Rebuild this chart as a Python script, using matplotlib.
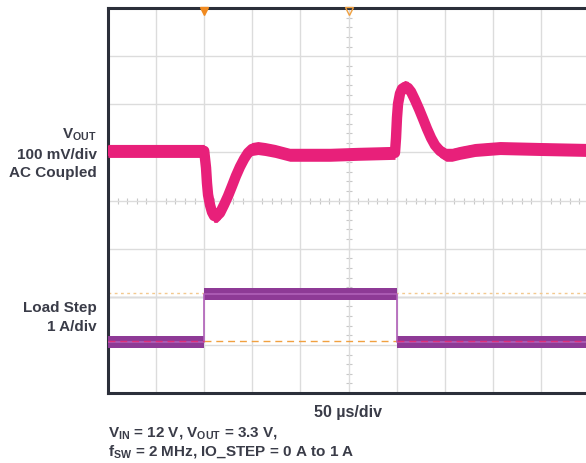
import numpy as np
import matplotlib
matplotlib.use("Agg")
import matplotlib.pyplot as plt

plt.rcParams['font.family'] = ['Liberation Sans', 'DejaVu Sans']
plt.rcParams['mathtext.fontset'] = 'custom'
plt.rcParams['mathtext.rm'] = 'Liberation Sans'
plt.rcParams['mathtext.bf'] = 'Liberation Sans:bold'

#%% Daten (abgelesen aus dem Oszillogramm)
# VOUT (AC gekoppelt): Zeit in us, Abweichung in mV
t_vout = [0, 100, 100.8, 101.9, 102.9, 104, 106, 108.1, 110.2, 113.3, 116.4, 120.6,
          124.7, 128.9, 133, 137.2, 141.4, 145.5, 149.7, 155.9, 163.2, 173.6, 189,
          230.8, 260, 298.3, 299.4, 300.4, 301.5, 303.5, 305.6, 308.7, 311.9, 315,
          319.1, 323.3, 327.4, 331.6, 335.8, 339.9, 345.1, 351.4, 357.6, 365.9,
          381.5, 407.5, 450, 500]
v_vout = [0, 0, -15, -35, -67, -91, -112, -127, -135, -135, -129, -112,
          -94, -73, -52, -33, -17, -4, 4, 6, 4, 0, -8,
          -8, -6, -4, 27, 69, 98, 119, 129, 133, 131, 123,
          106, 87, 67, 46, 27, 12, 0, -8, -8, -4,
          2, 6, 4, 2]

# Laststrom: Zeit in us, Strom in A
t_last = [0, 100, 100, 300, 300, 500]
i_last = [0, 0, 1, 1, 0, 0]

# Skalierung / Lage auf dem Schirm (Divisions)
mv_pro_div = 100
a_pro_div = 1
vout_offset = 5.03
last_offset = 1.06

pink = '#e8207a'
lila = '#8e3a96'
rahmen = '#2b2f3a'
textfarbe = '#3a3c48'

#%% Plot
fig = plt.figure(figsize=(5.86, 4.64), dpi=100)
ax = fig.add_axes([108/586, 70/464, 481/586, 385/464])
ax.set_xlim(0, 500)
ax.set_ylim(0, 8)

# Raster
ax.set_xticks(np.arange(0, 501, 50))
ax.set_yticks(np.arange(0, 9, 1))
ax.grid(True, color='#dcdcdc', lw=1.0)
ax.tick_params(length=0, labelbottom=False, labelleft=False)
ax.axhline(2, color='#b4b4b4', lw=1.0, zorder=1)

# Mittelkreuz mit Feinteilung
fx = np.arange(0, 501, 10)
ax.plot(fx, np.full(len(fx), 4), ls='', marker='|', ms=4, mew=0.8, color='#c8c8c8', zorder=1)
fy = np.arange(0, 8.01, 0.2)
ax.plot(np.full(len(fy), 250), fy, ls='', marker='_', ms=4, mew=0.8, color='#c8c8c8', zorder=1)

# Referenzlinien
ax.axhline(last_offset + 1.02, color='#f3c98f', lw=1.0, ls=(0, (2, 2.5)), zorder=2)
ax.plot([100, 300], [last_offset + 0.02] * 2, color='#f0a040', lw=1.0, ls=(0, (5, 3.5)), zorder=2)

# VOUT
tv = np.array(t_vout)
yv = vout_offset + np.array(v_vout) / mv_pro_div
hw = 0.135
ax.fill_between(tv, yv - hw, yv + hw, color=pink, lw=0, zorder=3)
ax.plot(tv, yv, color=pink, lw=7.5, solid_joinstyle='round', solid_capstyle='butt', zorder=3)

# Laststrom
tl = np.array(t_last)
yl = last_offset + np.array(i_last) / a_pro_div
hl = 0.125
ax.fill_between(tl, yl - hl, yl + hl, color=lila, lw=0, zorder=3)
ax.plot(tl, yl, color='#b060b8', lw=1.2, zorder=3)
for a, b in [(0, 100), (300, 500)]:
    ax.plot([a, b], [last_offset + 0.02] * 2, color='#e0307a', lw=1.0, ls=(0, (5, 3.5)), zorder=4)

# Trigger-Marker
ax.plot([100], [7.93], marker='v', ms=6, color='#f08a20', clip_on=False, zorder=6)
ax.plot([250], [7.93], marker='v', ms=6, mfc='none', mec='#f0a040', mew=1.0, clip_on=False, zorder=6)

for s in ['left', 'bottom', 'top']:
    ax.spines[s].set_color(rahmen)
    ax.spines[s].set_linewidth(2.2)
ax.spines['right'].set_visible(False)

# Beschriftung
kw = dict(color=textfarbe, fontsize=11, fontweight='bold', ha='right', va='center')
fig.text(97/586, 1 - 135/464, r'$\mathbf{V_{OUT}}$', **kw)
fig.text(97/586, 1 - 155/464, '100 mV/div', **kw)
fig.text(97/586, 1 - 173/464, 'AC Coupled', **kw)
fig.text(97/586, 1 - 308/464, 'Load Step', **kw)
fig.text(97/586, 1 - 327/464, '1 A/div', **kw)

fig.text(348/586, 1 - 412/464, '50 µs/div', color=textfarbe, fontsize=11.5,
         fontweight='bold', ha='center', va='center')
fig.text(108/586, 1 - 433/464, r'$\mathbf{V_{IN}}$ = 12 V, $\mathbf{V_{OUT}}$ = 3.3 V,',
         color=textfarbe, fontsize=11, fontweight='bold', ha='left', va='center')
fig.text(108/586, 1 - 452/464, r'$\mathbf{f_{SW}}$ = 2 MHz, IO_STEP = 0 A to 1 A',
         color=textfarbe, fontsize=11, fontweight='bold', ha='left', va='center')

fig.savefig('out.png', dpi=100)
plt.close(fig)
